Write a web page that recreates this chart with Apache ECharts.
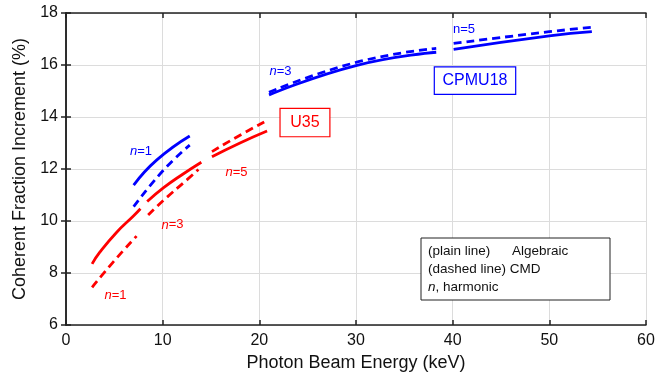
<!DOCTYPE html>
<html>
<head>
<meta charset="utf-8">
<script src="https://cdn.jsdelivr.net/npm/echarts@6/dist/echarts.min.js"></script>
<style>
  html, body { margin: 0; padding: 0; background: #fff; }
  #chart { width: 662px; height: 373px; }
</style>
</head>
<body>
<div id="chart"></div>
<script>
// U35 (red) and CPMU18 (blue), [energy keV, increment %]
const redSolidN1 = [[2.7, 8.35], [3.5, 8.8], [5.2, 9.55], [7.0, 10.2], [7.7, 10.47]];
const redDashN1 = [[2.7, 7.45], [4.9, 8.43], [7.3, 9.42]];
const redSolidN3 = [[8.4, 10.75], [10.1, 11.28], [12.0, 11.78], [14.0, 12.26]];
const redDashN3 = [[8.5, 10.23], [10.1, 10.8], [12.5, 11.58], [13.7, 11.98]];
const redSolidN5 = [[15.1, 12.47], [18.0, 13.0], [20.8, 13.46]];
const redDashN5 = [[15.1, 12.67], [18.0, 13.3], [20.8, 13.87]];

const blueSolidN1 = [[7.0, 11.38], [9.4, 12.35], [12.8, 13.27]];
const blueDashN1 = [[7.0, 10.55], [10.1, 11.96], [12.8, 12.92]];
const blueSolidN3 = [[21.0, 14.85], [30.0, 15.98], [38.3, 16.49]];
const blueDashN3 = [[21.0, 14.95], [30.0, 16.1], [38.3, 16.64]];
const blueSolidN5 = [[40.1, 16.6], [50.0, 17.12], [54.4, 17.28]];
const blueDashN5 = [[40.1, 16.83], [50.0, 17.28], [54.4, 17.45]];

// harmonic labels: [x, y, text, colour, italic n]
const harmonicLabels = [
  [7.76, 12.69, '1', '#0000ff', true],
  [22.19, 15.77, '3', '#0000ff', true],
  [41.17, 17.35, '5', '#0000ff', false],
  [5.12, 7.15, '1', '#ff0000', true],
  [11.02, 9.85, '3', '#ff0000', true],
  [17.64, 11.88, '5', '#ff0000', true]
];

const RED = '#ff0000';
const BLUE = '#0000ff';
const FONT = '"Liberation Sans", Arial, sans-serif';

function curve(data, color, dashed) {
  return {
    type: 'line',
    data: data,
    smooth: true,
    showSymbol: false,
    silent: true,
    lineStyle: { color: color, width: 2.8, type: dashed ? [8, 5] : 'solid', cap: 'butt' }
  };
}

const chart = echarts.init(document.getElementById('chart'));

const frameLine = { show: true, lineStyle: { color: '#222', width: 1.5 } };
const tickIn = { show: true, inside: true, length: 5, lineStyle: { color: '#222', width: 1.5 } };

chart.setOption({
  animation: false,
  textStyle: { fontFamily: FONT },
  grid: { left: 66, right: 16, top: 13, bottom: 48, outerBoundsMode: 'none' },
  xAxis: [
    {
      type: 'value', min: 0, max: 60, interval: 10,
      name: 'Photon Beam Energy (keV)', nameLocation: 'middle', nameGap: 25,
      nameTextStyle: { fontSize: 18, color: '#111', fontFamily: FONT },
      axisLine: frameLine, axisTick: tickIn,
      axisLabel: { fontSize: 16, color: '#111', margin: 8, fontFamily: FONT },
      splitLine: { show: true, lineStyle: { color: '#dcdcdc', width: 1 } }
    },
    {
      type: 'value', min: 0, max: 60, interval: 10, position: 'top',
      axisLine: frameLine, axisTick: tickIn, axisLabel: { show: false }, splitLine: { show: false }
    }
  ],
  yAxis: [
    {
      type: 'value', min: 6, max: 18, interval: 2,
      name: 'Coherent Fraction Increment (%)', nameLocation: 'middle', nameGap: 37,
      nameTextStyle: { fontSize: 18, color: '#111', fontFamily: FONT },
      axisLine: frameLine, axisTick: tickIn,
      axisLabel: { fontSize: 16, color: '#111', margin: 8, fontFamily: FONT },
      splitLine: { show: true, lineStyle: { color: '#dcdcdc', width: 1 } }
    },
    {
      type: 'value', min: 6, max: 18, interval: 2, position: 'right',
      axisLine: frameLine, axisTick: tickIn, axisLabel: { show: false }, splitLine: { show: false }
    }
  ],
  series: [
    curve(redSolidN1, RED, false), curve(redDashN1, RED, true),
    curve(redSolidN3, RED, false), curve(redDashN3, RED, true),
    curve(redSolidN5, RED, false), curve(redDashN5, RED, true),
    curve(blueSolidN1, BLUE, false), curve(blueDashN1, BLUE, true),
    curve(blueSolidN3, BLUE, false), curve(blueDashN3, BLUE, true),
    curve(blueSolidN5, BLUE, false), curve(blueDashN5, BLUE, true)
  ]
});

// annotations placed from data coordinates
const graphics = harmonicLabels.map(function (l) {
  const p = chart.convertToPixel({ xAxisIndex: 0, yAxisIndex: 0 }, [l[0], l[1]]);
  return {
    type: 'text', x: p[0], y: p[1], silent: true,
    style: {
      text: '{n|n}{t|=' + l[2] + '}', align: 'center', verticalAlign: 'middle',
      fill: l[3], fontSize: 13, fontFamily: FONT,
      rich: {
        n: { fontStyle: l[4] ? 'italic' : 'normal', fontSize: 13, fill: l[3], fontFamily: FONT },
        t: { fontSize: 13, fill: l[3], fontFamily: FONT }
      }
    }
  };
});

function boxLabel(x0, y0, x1, y1, text, color) {
  const a = chart.convertToPixel({ xAxisIndex: 0, yAxisIndex: 0 }, [x0, y0]);
  const b = chart.convertToPixel({ xAxisIndex: 0, yAxisIndex: 0 }, [x1, y1]);
  return [
    { type: 'rect', silent: true, shape: { x: a[0], y: b[1], width: b[0] - a[0], height: a[1] - b[1] },
      style: { fill: '#fff', stroke: color, lineWidth: 1.2 } },
    { type: 'text', silent: true, x: (a[0] + b[0]) / 2, y: (a[1] + b[1]) / 2,
      style: { text: text, align: 'center', verticalAlign: 'middle', fill: color, fontSize: 16, fontFamily: FONT } }
  ];
}

const u35 = boxLabel(22.14, 13.24, 27.3, 14.33, 'U35', RED);
const cpmu = boxLabel(38.1, 14.87, 46.52, 15.93, 'CPMU18', BLUE);

function legendText(x, y, text) {
  return { type: 'text', silent: true, x: x, y: y,
    style: { text: text, verticalAlign: 'middle', fill: '#111', fontSize: 13.5, fontFamily: FONT,
      rich: {
        n: { fontStyle: 'italic', fontSize: 13.5, fill: '#111', fontFamily: FONT },
        t: { fontSize: 13.5, fill: '#111', fontFamily: FONT }
      } } };
}

const legendBox = [
  { type: 'rect', silent: true, shape: { x: 421, y: 238, width: 189, height: 62 },
    style: { fill: '#fff', stroke: '#222', lineWidth: 1 } },
  legendText(428, 251, '(plain line)'),
  legendText(512, 251, 'Algebraic'),
  legendText(428, 269, '(dashed line) CMD'),
  legendText(428, 287, '{n|n}{t|, harmonic}')
];

chart.setOption({ graphic: graphics.concat(u35, cpmu, legendBox) });
</script>
</body>
</html>
